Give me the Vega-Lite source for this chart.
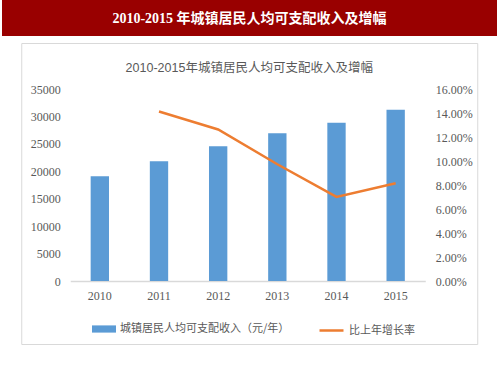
{
  "$schema": "https://vega.github.io/schema/vega-lite/v6.json",
  "background": "white",
  "padding": {"left": 2, "top": 0, "right": 3, "bottom": 0},
  "spacing": 6,
  "center": true,
  "config": {"view": {"stroke": null}, "font": "Noto Sans CJK SC"},
  "vconcat": [
    {
      "width": 495,
      "height": 36,
      "view": {"fill": "#990000", "stroke": null},
      "data": {"values": [{"t": "2010-2015 年城镇居民人均可支配收入及增幅"}]},
      "mark": {"type": "text", "color": "white", "fontSize": 14, "fontWeight": "bold", "baseline": "middle", "dy": 1, "font": "Liberation Serif, Noto Sans CJK SC"},
      "encoding": {"text": {"field": "t"}}
    },
    {
      "width": 456,
      "height": 301,
      "view": {"stroke": "#d9d9d9", "strokeWidth": 1},
      "title": {"text": "2010-2015年城镇居民人均可支配收入及增幅", "fontSize": 12.5, "fontWeight": "normal", "color": "#595959", "font": "Liberation Sans, Noto Sans CJK SC", "offset": -31},
      "data": {"values": [
        {"year": "2010", "income": 19109, "growth": null},
        {"year": "2011", "income": 21810, "growth": 0.1413},
        {"year": "2012", "income": 24565, "growth": 0.1263},
        {"year": "2013", "income": 26955, "growth": 0.0973},
        {"year": "2014", "income": 28844, "growth": 0.0701},
        {"year": "2015", "income": 31195, "growth": 0.0815}
      ]},
      "encoding": {
        "x": {"field": "year", "type": "ordinal", "title": null,
          "scale": {"range": [49, 404], "paddingInner": 0.69, "paddingOuter": 0.345},
          "axis": {"orient": "bottom", "offset": -63, "labelAngle": 0, "ticks": false, "domainColor": "#d9d9d9", "domainWidth": 1.5, "labelPadding": 9, "labelFont": "Liberation Serif", "labelFontSize": 12, "labelColor": "#595959"}}
      },
      "layer": [
        {
          "mark": {"type": "bar"},
          "encoding": {
            "y": {"field": "income", "type": "quantitative", "title": null,
              "scale": {"domain": [0, 35000], "range": [238, 46]},
              "axis": {"orient": "left", "offset": -49, "values": [0, 5000, 10000, 15000, 20000, 25000, 30000, 35000], "grid": false, "domain": false, "ticks": false, "labelPadding": 10, "format": "d", "labelFont": "Liberation Serif", "labelFontSize": 12, "labelColor": "#595959"}},
            "fill": {"datum": "城镇居民人均可支配收入（元/年）", "scale": {"range": ["#5B9BD5"]},
              "legend": {"orient": "none", "legendX": 90, "legendY": 317, "title": null, "symbolType": "M-1,-0.3H1V0.3H-1Z", "symbolSize": 576, "symbolStrokeWidth": 0, "labelFontSize": 11, "labelColor": "#595959", "labelFont": "Noto Sans CJK SC", "labelOffset": 4, "labelLimit": 300}}
          }
        },
        {
          "mark": {"type": "line", "strokeWidth": 2.5},
          "encoding": {
            "y": {"field": "growth", "type": "quantitative", "title": null,
              "scale": {"domain": [0, 0.16], "range": [238, 46]},
              "axis": {"orient": "right", "offset": -52, "values": [0, 0.02, 0.04, 0.06, 0.08, 0.1, 0.12, 0.14, 0.16], "format": ".2%", "grid": false, "domain": false, "ticks": false, "labelPadding": 10, "labelFont": "Liberation Serif", "labelFontSize": 12, "labelColor": "#595959"}},
            "stroke": {"datum": "比上年增长率", "scale": {"range": ["#ED7D31"]},
              "legend": {"orient": "none", "legendX": 316, "legendY": 317, "title": null, "symbolType": "stroke", "symbolSize": 576, "symbolStrokeWidth": 2.5, "labelFontSize": 11, "labelColor": "#595959", "labelFont": "Noto Sans CJK SC", "labelOffset": 4, "labelLimit": 300}}
          }
        }
      ],
      "resolve": {"scale": {"y": "independent"}}
    }
  ]
}
